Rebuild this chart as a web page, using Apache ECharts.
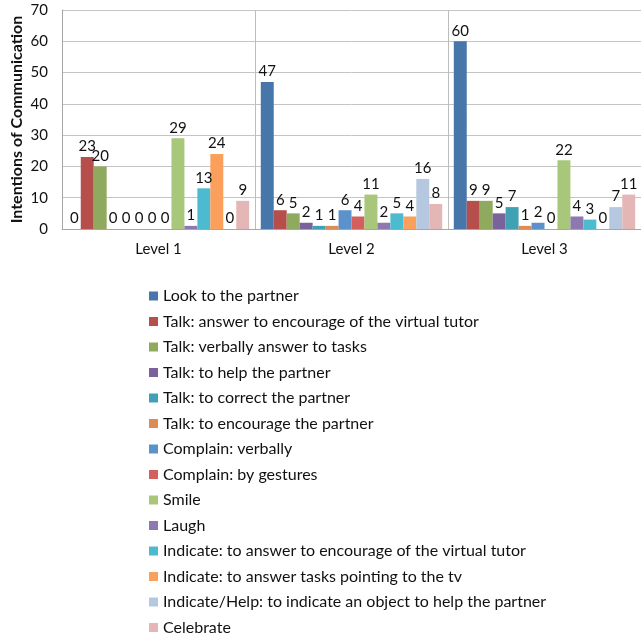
<!DOCTYPE html>
<html><head><meta charset="utf-8">
<script src="https://cdn.jsdelivr.net/npm/echarts@6/dist/echarts.min.js"></script>
<style>html,body{margin:0;padding:0;background:#fff}#c{width:641px;height:638px}</style>
</head><body><div id="c"></div>
<script>
const categories = ['Level 1', 'Level 2', 'Level 3'];
const seriesNames = [
  'Look to the partner',
  'Talk: answer to encourage of the virtual tutor',
  'Talk: verbally answer to tasks',
  'Talk: to help the partner',
  'Talk: to correct the partner',
  'Talk: to encourage the partner',
  'Complain: verbally',
  'Complain: by gestures',
  'Smile',
  'Laugh',
  'Indicate: to answer to encourage of the virtual tutor',
  'Indicate: to answer tasks pointing to the tv',
  'Indicate/Help: to indicate an object to help the partner',
  'Celebrate'
];
const lookToPartner = [0, 47, 60];
const talkAnswerEncourage = [23, 6, 9];
const talkVerballyTasks = [20, 5, 9];
const talkHelpPartner = [0, 2, 5];
const talkCorrectPartner = [0, 1, 7];
const talkEncouragePartner = [0, 1, 1];
const complainVerbally = [0, 6, 2];
const complainGestures = [0, 4, 0];
const smile = [29, 11, 22];
const laugh = [1, 2, 4];
const indicateAnswerEncourage = [13, 5, 3];
const indicateTasksTv = [24, 4, 0];
const indicateHelpObject = [0, 16, 7];
const celebrate = [9, 8, 11];
const yTicks = [0, 10, 20, 30, 40, 50, 60, 70];

const seriesValues = [lookToPartner, talkAnswerEncourage, talkVerballyTasks, talkHelpPartner,
  talkCorrectPartner, talkEncouragePartner, complainVerbally, complainGestures, smile, laugh,
  indicateAnswerEncourage, indicateTasksTv, indicateHelpObject, celebrate];
const colors = ['#4777AA', '#B64E4B', '#8FA95E', '#7A629D', '#40A0B4', '#DC8C55', '#5B92CC',
  '#D4605E', '#A9C77A', '#8E78B0', '#4CBACF', '#FBA05C', '#B6C8DF', '#E4B7B6'];
const font = 'Lato, "Open Sans", sans-serif';

const chart = echarts.init(document.getElementById('c'), null, {renderer: 'canvas'});
chart.setOption({
  animation: false,
  color: colors,
  textStyle: {fontFamily: font},
  grid: {left: 62, top: 10, right: 0, bottom: 409, containLabel: false, outerBoundsMode: 'none'},
  legend: {
    orient: 'vertical', left: 149, top: 287, height: 360, padding: 0,
    itemWidth: 9, itemHeight: 9, itemGap: 7.5,
    icon: 'rect',
    textStyle: {fontSize: 16, color: '#111', fontFamily: font, lineHeight: 18},
    data: seriesNames
  },
  xAxis: {
    type: 'category', data: categories,
    axisLine: {lineStyle: {color: '#A6A6A6', width: 1}},
    axisTick: {show: false},
    axisLabel: {fontSize: 15, color: '#111', margin: 13, fontFamily: font},
    splitLine: {show: true, lineStyle: {color: '#BDBDBD', width: 1}}
  },
  yAxis: {
    type: 'value', min: yTicks[0], max: yTicks[yTicks.length - 1], interval: 10,
    name: 'Intentions of Communication', nameLocation: 'middle', nameGap: 37,
    nameMoveOverlap: false,
    nameTextStyle: {fontSize: 16, fontWeight: 'bold', color: '#111', fontFamily: font},
    axisLine: {show: true, lineStyle: {color: '#A6A6A6'}},
    axisTick: {show: false},
    axisLabel: {fontSize: 15, color: '#111', margin: 14, fontFamily: font},
    splitLine: {lineStyle: {color: '#C4C4C4', width: 1}}
  },
  series: seriesNames.map((n, i) => ({
    name: n, type: 'bar', data: seriesValues[i],
    barGap: '0%', barCategoryGap: '6%',
    itemStyle: {color: colors[i]},
    label: {show: true, position: 'top', fontSize: 15, color: '#111', distance: 3, fontFamily: font}
  }))
});
</script></body></html>
